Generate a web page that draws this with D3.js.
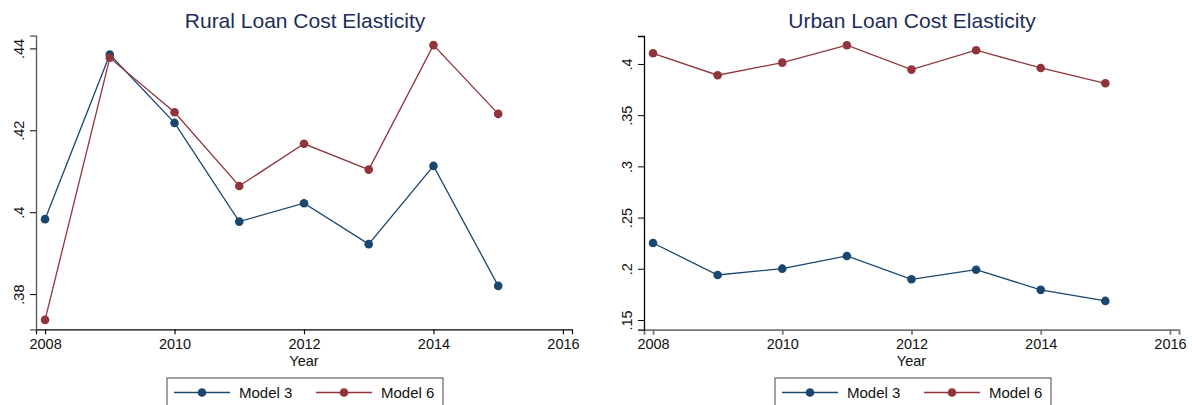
<!DOCTYPE html>
<html>
<head>
<meta charset="utf-8">
<script src="https://cdn.jsdelivr.net/npm/d3@7"></script>
<style>
  html, body { margin: 0; padding: 0; background: #fff; }
  svg { display: block; font-family: "Liberation Sans", Arial, sans-serif; }
</style>
</head>
<body>
<svg id="chart" width="1192" height="405"></svg>
<script>
// Estimated elasticities by year
const years = [2008, 2009, 2010, 2011, 2012, 2013, 2014, 2015];

const ruralModel3 = [0.3983, 0.4385, 0.4218, 0.3977, 0.4022, 0.3922, 0.4113, 0.3820];
const ruralModel6 = [0.3737, 0.4377, 0.4244, 0.4064, 0.4167, 0.4104, 0.4408, 0.4240];

const urbanModel3 = [0.2252, 0.1939, 0.2001, 0.2125, 0.1897, 0.1991, 0.1794, 0.1686];
const urbanModel6 = [0.4104, 0.3890, 0.4013, 0.4183, 0.3945, 0.4134, 0.3961, 0.3811];

const xTicks = [2008, 2010, 2012, 2014, 2016];
const ruralYTicks = [0.38, 0.40, 0.42, 0.44];
const urbanYTicks = [0.15, 0.20, 0.25, 0.30, 0.35, 0.40];

const seriesNames = ["Model 3", "Model 6"];
const seriesColors = ["#1a476f", "#90353b"];

const svg = d3.select("#chart");
const fmtY = v => d3.format(".2~f")(v).replace(/^0/, "");

function panel(cfg) {
  const g = svg.append("g");
  const x = d3.scaleLinear()
    .domain([xTicks[0] - 0.14, xTicks[xTicks.length - 1] + 0.14])
    .range([cfg.left, cfg.right]);
  const y = d3.scaleLinear().domain(cfg.yDomain).range([cfg.bottom, cfg.top]);

  // title
  g.append("text")
    .attr("x", cfg.titleX).attr("y", 28)
    .attr("text-anchor", "middle")
    .attr("font-size", 21)
    .attr("fill", "#1c2d5c")
    .text(cfg.title);

  // x axis
  const xAxis = g.append("g")
    .attr("transform", `translate(0,${cfg.bottom})`)
    .call(d3.axisBottom(x).tickValues(xTicks).tickFormat(d3.format("d")).tickSizeOuter(0).tickSize(5).tickPadding(4));
  xAxis.select(".domain").attr("stroke", cfg.xAxisColor).attr("stroke-width", cfg.xAxisWidth);
  xAxis.selectAll(".tick line").attr("stroke", cfg.xAxisColor).attr("stroke-width", cfg.xAxisWidth);
  xAxis.selectAll(".tick text").attr("font-size", 14.5).attr("fill", "#111")
    .attr("font-family", "Liberation Sans, Arial, sans-serif");

  // y axis
  const yAxis = g.append("g")
    .attr("transform", `translate(${cfg.left},0)`)
    .call(d3.axisLeft(y).tickValues(cfg.yTicks).tickFormat(fmtY).tickSizeOuter(0).tickSize(6).tickPadding(0));
  yAxis.select(".domain").attr("stroke", cfg.yAxisColor).attr("stroke-width", 1.3);
  yAxis.selectAll(".tick line").attr("stroke", "#000");
  yAxis.selectAll(".tick text")
    .attr("font-size", 14.5).attr("fill", "#111")
    .attr("font-family", "Liberation Sans, Arial, sans-serif")
    .attr("x", null).attr("dy", null)
    .attr("text-anchor", "middle")
    .attr("transform", "translate(-12,0) rotate(-90)");

  // axis label
  g.append("text")
    .attr("x", (cfg.left + cfg.right) / 2).attr("y", 366)
    .attr("text-anchor", "middle")
    .attr("font-size", 14.5).attr("fill", "#111")
    .text("Year");

  // series
  const line = d3.line().x((d, i) => x(years[i])).y(d => y(d));
  cfg.series.forEach((vals, k) => {
    g.append("path")
      .datum(vals)
      .attr("d", line)
      .attr("fill", "none")
      .attr("stroke", seriesColors[k])
      .attr("stroke-width", 1.3);
    g.selectAll(null)
      .data(vals)
      .enter().append("circle")
      .attr("cx", (d, i) => x(years[i]))
      .attr("cy", d => y(d))
      .attr("r", 4.3)
      .attr("fill", seriesColors[k]);
  });

  // legend
  const lg = g.append("g").attr("transform", `translate(${cfg.legendX},378)`);
  lg.append("rect")
    .attr("x", 0).attr("y", 0).attr("width", 276).attr("height", 40)
    .attr("fill", "#fff").attr("stroke", "#444").attr("stroke-width", 1);
  seriesNames.forEach((name, k) => {
    const ox = 7 + k * 142;
    lg.append("line")
      .attr("x1", ox).attr("x2", ox + 56).attr("y1", 14.5).attr("y2", 14.5)
      .attr("stroke", seriesColors[k]).attr("stroke-width", 1.3);
    lg.append("circle")
      .attr("cx", ox + 28).attr("cy", 14.5).attr("r", 4.3)
      .attr("fill", seriesColors[k]);
    lg.append("text")
      .attr("x", ox + 65).attr("y", 20)
      .attr("font-size", 15).attr("fill", "#111")
      .text(name);
  });
}

panel({
  title: "Rural Loan Cost Elasticity", titleX: 305,
  left: 36, right: 572, top: 35.7, bottom: 329.3,
  yDomain: [0.3714, 0.4431], yTicks: ruralYTicks,
  xAxisColor: "#000", xAxisWidth: 1.2, yAxisColor: "#555",
  series: [ruralModel3, ruralModel6],
  legendX: 167
});

panel({
  title: "Urban Loan Cost Elasticity", titleX: 912,
  left: 644, right: 1179, top: 36, bottom: 329.7,
  yDomain: [0.1405, 0.4273], yTicks: urbanYTicks,
  xAxisColor: "#777", xAxisWidth: 1.8, yAxisColor: "#000",
  series: [urbanModel3, urbanModel6],
  legendX: 775
});
</script>
</body>
</html>
